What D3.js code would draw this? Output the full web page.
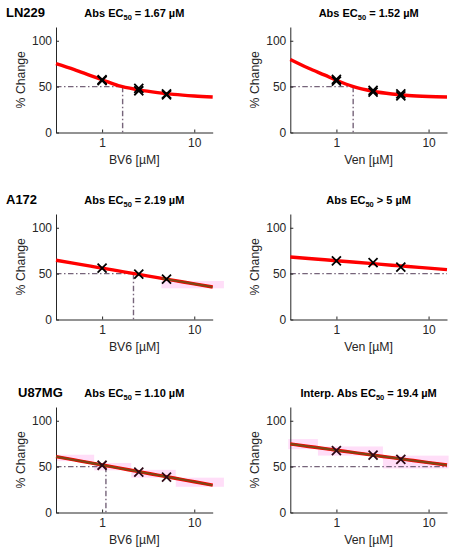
<!DOCTYPE html>
<html>
<head>
<meta charset="utf-8">
<script src="https://cdn.jsdelivr.net/npm/d3@7"></script>
<style>
  body { margin: 0; background: #fff; }
  text { font-family: "Liberation Sans", Arial, sans-serif; }
</style>
</head>
<body>
<svg id="chart" width="454" height="550"></svg>
<script>
// rows = cell lines, columns = drugs
var cellLines = ["LN229", "A172", "U87MG"];
var drugs = ["BV6", "Ven"];
var doses = [1, 2.5, 5];
var ec50Label = ["= 1.67 µM", "= 1.52 µM", "= 2.19 µM", "> 5 µM", "= 1.10 µM", "= 19.4 µM"];
var titlePrefix = ["", "", "", "", "", "Interp. "];
var ec50 = [1.67, 1.52, 2.19, null, 1.10, null];   // null -> no crossing inside the plot
var yTicks = [0, 50, 100];
var xTicks = [1, 10];

// measured replicates at each dose (% change)
var measured = [
    [[57.5, 56.5], [48, 45.5], [42, 41]],
    [[58, 56], [46, 44], [42, 40]],
    [[56], [49.5], [44]],
    [[64], [62], [57]],
    [[51.5], [44], [38.5]],
    [[67.5], [62.5], [58]]
];

// fitted curves
var fitX = [0.316, 0.5, 0.75, 1, 1.5, 2.5, 4, 6, 10, 15.85];
var fitY = [
    [75, 68.5, 62, 57.5, 51, 46.5, 43.5, 41.5, 39.8, 38.7],
    [79.6, 70, 62.5, 57, 50.3, 45, 42, 40.3, 39.2, 38.7],
    [64.6, 61.2, 58.1, 56, 53, 49.2, 45.6, 42.6, 38.8, 35.4],
    [68.2, 66.5, 65.1, 64.1, 62.7, 60.9, 59.2, 57.8, 56.0, 54.4],
    [60.9, 57.3, 54.1, 51.8, 48.6, 44.5, 40.8, 37.6, 33.5, 29.8],
    [74.7, 72.0, 69.6, 67.9, 65.5, 62.5, 59.8, 57.4, 54.4, 51.8]
];

// pink uncertainty bands: [x0, x1, low, high]
var bands = [
    [],
    [],
    [[4.4, 21, 34, 42]],
    [],
    [[0.316, 0.82, 56, 63], [0.82, 2.07, 46, 54], [2.07, 6.3, 38, 46.5], [6.3, 21, 28, 38]],
    [[0.3, 0.63, 69, 80], [0.63, 3.2, 62, 72], [3.2, 16.5, 48, 62]]
];
// x range where the fit is drawn dark
var darkSpan = [null, null, [4.4, 15.85], null, [0.316, 15.85], [0.316, 15.85]];
var markerColor = ["#000", "#000", "#000", "#000", "#2e0a16", "#2e0a16"];

var xMin = 0.316, xMax = 15.85, yMax = 115;

var svg = d3.select("#chart");
var colX = [[56, 212.7], [290.3, 447]];
var rowY = [27, 214, 407];
var plotH = 105.5;
var rowLabelX = [6, 6, 18];
var axisColor = "#262626";

cellLines.forEach(function (cell, r) {
    svg.append("text")
        .attr("x", rowLabelX[r]).attr("y", rowY[r] - 10)
        .attr("font-size", 13).attr("font-weight", "bold")
        .text(cell);

    drugs.forEach(function (drug, c) {
        var k = r * 2 + c;
        var x0 = colX[c][0], x1 = colX[c][1];
        var top = rowY[r], bottom = rowY[r] + plotH;
        var x = d3.scaleLog().domain([xMin, xMax]).range([x0, x1]);
        var y = d3.scaleLinear().domain([0, yMax]).range([bottom, top]);
        var g = svg.append("g");

        // bands
        g.append("g").selectAll("rect").data(bands[k]).enter()
            .append("rect")
            .attr("x", function (d) { return x(d[0]); })
            .attr("width", function (d) { return x(d[1]) - x(d[0]); })
            .attr("y", function (d) { return y(d[3]); })
            .attr("height", function (d) { return y(d[2]) - y(d[3]); })
            .attr("fill", "rgba(255,0,200,0.13)");

        // EC50 guide lines
        var guide = [];
        if (ec50[k] != null) {
            guide.push([[xMin, 50], [ec50[k], 50]]);
            guide.push([[ec50[k], 50], [ec50[k], 0]]);
        } else {
            guide.push([[xMin, 50], [xMax, 50]]);
        }
        var lineFun = d3.line()
            .x(function (d) { return x(d[0]); })
            .y(function (d) { return y(d[1]); });
        g.append("g").selectAll("path").data(guide).enter()
            .append("path")
            .attr("d", function (d) { return lineFun(d); })
            .attr("stroke", "#76647a")
            .attr("stroke-width", 1.4)
            .attr("stroke-dasharray", "5.5,2.5,1.5,2.5")
            .attr("fill", "none");

        // axes
        var yAxis = d3.axisLeft(y).tickValues(yTicks).tickSizeInner(-3).tickSizeOuter(0).tickPadding(4);
        var xAxis = d3.axisBottom(x).tickValues(xTicks).tickFormat(d3.format("d"))
            .tickSizeInner(-3).tickSizeOuter(0).tickPadding(6);
        var ya = g.append("g").attr("transform", "translate(" + x0 + ",0)").call(yAxis);
        var xa = g.append("g").attr("transform", "translate(0," + bottom + ")").call(xAxis);
        [ya, xa].forEach(function (a) {
            a.selectAll("path,line").attr("stroke", axisColor);
            a.selectAll("text").attr("fill", axisColor).attr("font-size", 12)
                .attr("font-family", "Liberation Sans, Arial, sans-serif");
        });

        // fit curve
        var pts = fitX.map(function (v, i) { return [v, fitY[k][i]]; });
        var curveFun = d3.line()
            .x(function (d) { return x(d[0]); })
            .y(function (d) { return y(d[1]); })
            .curve(d3.curveMonotoneX);
        g.append("path").attr("d", curveFun(pts))
            .attr("stroke", "#ff0000").attr("stroke-width", 3.4).attr("fill", "none");
        if (darkSpan[k]) {
            var clipId = "clip" + k;
            svg.append("clipPath").attr("id", clipId).append("rect")
                .attr("x", x(darkSpan[k][0])).attr("width", x(darkSpan[k][1]) - x(darkSpan[k][0]))
                .attr("y", top).attr("height", plotH);
            g.append("path").attr("d", curveFun(pts))
                .attr("clip-path", "url(#" + clipId + ")")
                .attr("stroke", "#7f4714").attr("stroke-width", 2.1).attr("fill", "none");
        }

        // measured points
        var marks = [];
        measured[k].forEach(function (reps, i) {
            reps.forEach(function (v) { marks.push([doses[i], v]); });
        });
        g.append("g").selectAll("path").data(marks).enter()
            .append("path")
            .attr("transform", function (d) { return "translate(" + x(d[0]) + "," + y(d[1]) + ")"; })
            .attr("d", "M-4.5,-4.5L4.5,4.5M-4.5,4.5L4.5,-4.5")
            .attr("stroke", markerColor[k]).attr("stroke-width", 1.8).attr("fill", "none");

        // labels
        g.append("text")
            .attr("x", (x0 + x1) / 2).attr("y", bottom + 31)
            .attr("text-anchor", "middle").attr("font-size", 12.3).attr("fill", axisColor)
            .text(drug + " [µM]");
        g.append("text")
            .attr("transform", "translate(" + (x0 - 31) + "," + ((top + bottom) / 2) + ") rotate(-90)")
            .attr("text-anchor", "middle").attr("font-size", 12.3).attr("fill", axisColor)
            .text("% Change");

        var t = g.append("text")
            .attr("x", (x0 + x1) / 2).attr("y", top - 10)
            .attr("text-anchor", "middle").attr("font-size", 11).attr("font-weight", "bold");
        t.append("tspan").text(titlePrefix[k] + "Abs EC");
        t.append("tspan").attr("font-size", 7.5).attr("dy", 2.5).text("50");
        t.append("tspan").attr("dy", -2.5).text(" " + ec50Label[k]);
    });
});
</script>
</body>
</html>
